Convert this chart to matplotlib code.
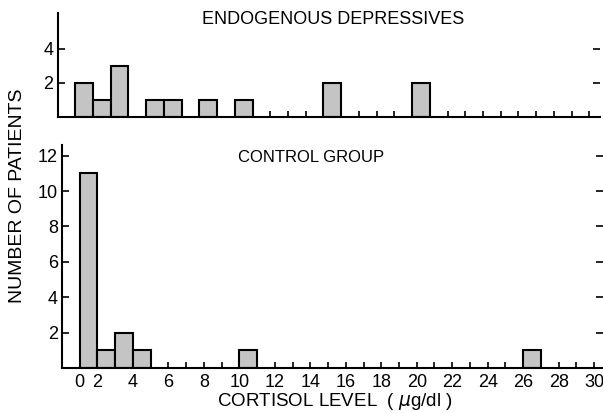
import matplotlib
matplotlib.use('Agg')
import matplotlib.pyplot as plt

plt.rcParams['font.family'] = ['Liberation Sans', 'DejaVu Sans']

# cortisol bins (left edge, ug/dl) and patient counts
depressive_bins = [1, 2, 3, 5, 6, 8, 10, 15, 20]
depressive_counts = [2, 1, 3, 1, 1, 1, 1, 2, 2]
control_bins = [1, 2, 3, 4, 10, 26]
control_counts = [11, 1, 2, 1, 1, 1]

x_tick_pos = [1, 2, 4, 6, 8, 10, 12, 14, 16, 18, 20, 22, 24, 26, 28, 30]
x_tick_labels = ['0', '2', '4', '6', '8', '10', '12', '14', '16', '18', '20',
                 '22', '24', '26', '28', '30']
top_yticks = [2, 4]
bottom_yticks = [2, 4, 6, 8, 10, 12]

W, H = 603, 413
BAR_FACE = '#c4c4c4'
LW = 1.5


def px_axes(fig, left, top, right, bottom):
    return fig.add_axes([left / W, 1 - bottom / H, (right - left) / W, (bottom - top) / H])


def style_axes(ax, ymax, yticks, xmax):
    ax.set_xlim(0, xmax)
    ax.set_ylim(0, ymax)
    ax.set_axisbelow(True)
    for side in ('top', 'right'):
        ax.spines[side].set_visible(False)
    for side in ('left', 'bottom'):
        ax.spines[side].set_linewidth(LW)
    ax.set_yticks(yticks)
    ax.set_xticks(range(0, 31), minor=True)
    ax.tick_params(axis='y', direction='in', length=5, width=1.2, pad=3,
                   right=True, labelsize=13)
    ax.tick_params(axis='x', which='both', direction='in', length=4, width=1.2)


fig = plt.figure(figsize=(W / 100, H / 100), dpi=100)

# top panel
ax1 = px_axes(fig, 57.5, 13, 600, 117)
style_axes(ax1, 6.1, top_yticks, 30.6)
ax1.bar(depressive_bins, depressive_counts, width=1, align='edge',
        facecolor=BAR_FACE, edgecolor='black', linewidth=LW)
ax1.set_xticks([])
ax1.set_xticks(range(0, 31), minor=True)
ax1.tick_params(axis='x', which='minor', direction='in', length=4, width=1.2)

# bottom panel
ax2 = px_axes(fig, 62, 145, 603, 368)
style_axes(ax2, 12.6, bottom_yticks, 30.5)
ax2.bar(control_bins, control_counts, width=1, align='edge',
        facecolor=BAR_FACE, edgecolor='black', linewidth=LW)
ax2.set_xticks(x_tick_pos)
ax2.set_xticklabels(x_tick_labels)
ax2.tick_params(axis='x', which='major', labelsize=13, pad=4)

fig.text(333 / W, 1 - 19 / H, 'ENDOGENOUS DEPRESSIVES', ha='center', va='center', fontsize=13)
fig.text(311 / W, 1 - 158 / H, 'CONTROL GROUP', ha='center', va='center', fontsize=12)
fig.text(335 / W, 1 - 402 / H, r'CORTISOL LEVEL  ( $\mu$g/dl )', ha='center', va='center',
         fontsize=13.5)
fig.text(18 / W, 1 - 196 / H, 'NUMBER OF PATIENTS', ha='center', va='center',
         rotation=90, fontsize=14)

fig.savefig('out.png', dpi=100)
